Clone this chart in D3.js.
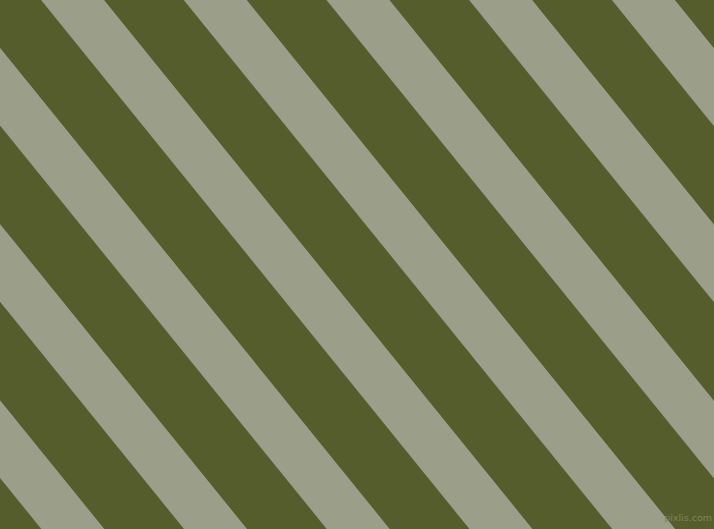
<!DOCTYPE html>
<html>
<head>
<meta charset="utf-8">
<script src="https://cdn.jsdelivr.net/npm/d3@7"></script>
<style>
html,body{margin:0;padding:0;background:#555D2D;overflow:hidden;}
svg{display:block;}
</style>
</head>
<body>
<script>
// Stripe bands (index along perpendicular axis) and their colours
const bandIndex = [-4, -3, -2, -1, 0, 1, 2, 3, 4, 5, 6];
const bandColors = ["#9B9E89", "#555D2D"];   // light stripe, dark stripe
const bandShare = [0.443, 0.557];            // share of one period: light, dark
const watermark = ["pixlis.com"];

const W = 714, H = 529;
const angle = 39;          // degrees from vertical
const period = 110.9;      // perpendicular period in px
const offset = 31.9;       // start of light stripe at origin

const rad = angle * Math.PI / 180;
const svg = d3.select("body").append("svg").attr("width", W).attr("height", H);

const u = d3.scaleLinear().domain([0, 1]).range([offset, offset + period]);
const vLen = W * Math.sin(rad) + H * Math.cos(rad) + 50;

svg.append("rect").attr("width", W).attr("height", H).attr("fill", bandColors[1]);

const g = svg.append("g").attr("transform", `rotate(${-angle})`);

const parts = [];
bandIndex.forEach(i => {
  parts.push({x0: u(i), x1: u(i + bandShare[0]), c: bandColors[0]});
  parts.push({x0: u(i + bandShare[0]), x1: u(i + 1), c: bandColors[1]});
});

g.selectAll("rect.band").data(parts).join("rect")
  .attr("class", "band")
  .attr("x", d => d.x0)
  .attr("width", d => d.x1 - d.x0)
  .attr("y", -50)
  .attr("height", vLen + 100)
  .attr("fill", d => d.c)
  .attr("shape-rendering", "geometricPrecision");

svg.selectAll("text.wm").data(watermark).join("text")
  .attr("class", "wm")
  .attr("x", W - 2)
  .attr("y", H - 8)
  .attr("text-anchor", "end")
  .attr("font-family", "DejaVu Sans, sans-serif")
  .attr("font-size", 9.5)
  .attr("fill", "#7F845F")
  .text(d => d);
</script>
</body>
</html>
